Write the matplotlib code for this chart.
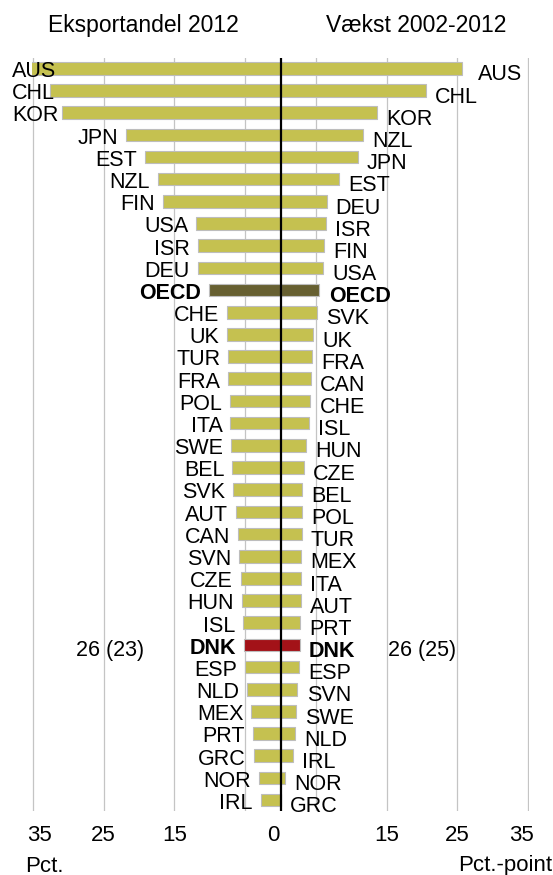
import matplotlib
matplotlib.use("Agg")
import matplotlib.pyplot as plt

plt.rcParams['font.family'] = ['Liberation Sans', 'DejaVu Sans']

# --- DATA ---
left_countries = ["AUS", "CHL", "KOR", "JPN", "EST", "NZL", "FIN", "USA", "ISR", "DEU",
                  "OECD", "CHE", "UK", "TUR", "FRA", "POL", "ITA", "SWE", "BEL", "SVK",
                  "AUT", "CAN", "SVN", "CZE", "HUN", "ISL", "DNK", "ESP", "NLD", "MEX",
                  "PRT", "GRC", "NOR", "IRL"]
left_values = [35.2, 32.5, 30.8, 21.8, 19.1, 17.3, 16.6, 11.9, 11.7, 11.7,
               10.1, 7.5, 7.5, 7.4, 7.4, 7.1, 7.1, 7.0, 6.8, 6.7,
               6.3, 6.0, 5.9, 5.6, 5.5, 5.3, 5.2, 5.0, 4.7, 4.1,
               3.9, 3.8, 3.1, 2.8]

right_countries = ["AUS", "CHL", "KOR", "NZL", "JPN", "EST", "DEU", "ISR", "FIN", "USA",
                   "OECD", "SVK", "UK", "FRA", "CAN", "CHE", "ISL", "HUN", "CZE", "BEL",
                   "POL", "TUR", "MEX", "ITA", "AUT", "PRT", "DNK", "ESP", "SVN", "SWE",
                   "NLD", "IRL", "NOR", "GRC"]
right_values = [25.7, 20.5, 13.7, 11.6, 10.9, 8.2, 6.5, 6.4, 6.1, 6.0,
                5.5, 5.1, 4.6, 4.5, 4.3, 4.2, 4.0, 3.6, 3.3, 3.0,
                3.0, 3.0, 2.95, 2.9, 2.9, 2.75, 2.7, 2.65, 2.4, 2.15,
                2.1, 1.7, 0.6, 0.0]

rank_left = "26 (23)"
rank_right = "26 (25)"

tick_pos = [-34, -25, -15, -1, 15, 25, 34]
tick_labels = ["35", "25", "15", "0", "15", "25", "35"]

# --- STYLE ---
OLIVE = "#C5C150"
DARK = "#676031"
RED = "#A31218"
EDGE = "#BDBDBD"
GRID = "#C4C4C4"


def bar_color(c):
    if c == "OECD":
        return DARK
    if c == "DNK":
        return RED
    return OLIVE


fig = plt.figure(figsize=(5.53, 8.75), dpi=100)
ax = fig.add_axes([32 / 553, 64 / 875, 497 / 553, 753 / 875])
ax.set_xlim(-35.1, 35.1)
ax.set_ylim(33.49, -0.464)
for s in ax.spines.values():
    s.set_visible(False)

for g in [-35, -25, -15, -5, 5, 15, 25, 35]:
    ax.axvline(g, color=GRID, lw=0.9, zorder=0)

rows = list(range(len(left_countries)))
ax.barh(rows, [-v for v in left_values], height=0.57,
        color=[bar_color(c) for c in left_countries], edgecolor=EDGE, linewidth=0.8, zorder=2)
ax.barh(rows, right_values, height=0.57,
        color=[bar_color(c) for c in right_countries], edgecolor=EDGE, linewidth=0.8, zorder=2)
ax.axvline(0, color="black", lw=1.6, zorder=3)

left_edge = -37.9  # labels may not run past the figure edge
for i, (c, v) in enumerate(zip(left_countries, left_values)):
    w = "bold" if c in ("OECD", "DNK") else "normal"
    t = ax.text(-v - 1.1, i + 0.15, c, ha="right", va="center", fontsize=15.5,
                fontweight=w, zorder=4, clip_on=False)
    fig.canvas.draw()
    bb = t.get_window_extent()
    if bb.x0 < 12:
        t.set_ha("left")
        t.set_x(left_edge)

for i, (c, v) in enumerate(zip(right_countries, right_values)):
    w = "bold" if c in ("OECD", "DNK") else "normal"
    dx = 2.2 if i == 0 else 1.3
    ax.text(v + dx, i + 0.3, c, ha="left", va="center", fontsize=15.5,
            fontweight=w, zorder=4, clip_on=False)

dnk_row = left_countries.index("DNK")
ax.text(-24.1, dnk_row + 0.25, rank_left, ha="center", va="center", fontsize=15.5)
ax.text(20.0, dnk_row + 0.25, rank_right, ha="center", va="center", fontsize=15.5)

ax.set_yticks([])
ax.set_xticks(tick_pos)
ax.set_xticklabels(tick_labels, fontsize=16)
ax.tick_params(axis="x", length=0, pad=10)

fig.text(143 / 553, 1 - 25.7 / 875, "Eksportandel 2012", ha="center", va="center", fontsize=16.5)
fig.text(416 / 553, 1 - 25.7 / 875, "Vækst 2002-2012", ha="center", va="center", fontsize=16.5)
fig.text(25 / 553, 1 - 866 / 875, "Pct.", ha="left", va="center", fontsize=16)
fig.text(0.999, 1 - 866 / 875, "Pct.-point", ha="right", va="center", fontsize=16)

fig.savefig("out.png", dpi=100)
